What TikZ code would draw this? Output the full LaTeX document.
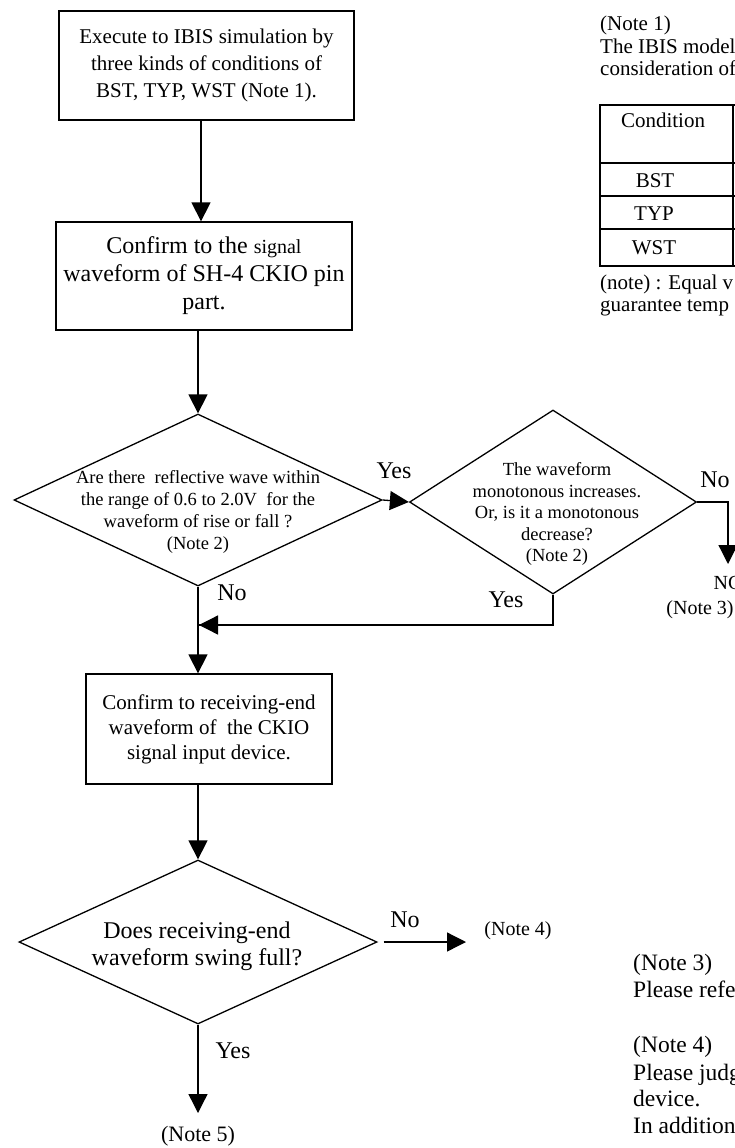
\documentclass[tikz,border=0pt]{standalone}
\usepackage{fontspec}
\setmainfont{Liberation Serif}
\usetikzlibrary{shapes.geometric,arrows.meta,calc}
\tikzset{
  box/.style={draw, line width=1.3pt, align=center, inner sep=0pt},
  dia/.style={draw, diamond, line width=1.3pt, inner sep=0pt},
  arr/.style={line width=1.3pt, -{Triangle[length=19pt,width=19pt]}},
  plain/.style={line width=1.3pt},
  lbl/.style={anchor=base, inner sep=0pt, font=\fontsize{24}{28}\selectfont},
  txt/.style={align=center, inner sep=0pt},
  note/.style={anchor=base west, inner sep=0pt},
}
\begin{document}
\begin{tikzpicture}[x=1pt,y=-1pt]
\useasboundingbox (0,0) rectangle (735,1148);
% boxes
\node[box, minimum width=295pt, minimum height=109pt, font=\fontsize{21}{27}\selectfont] (b1) at (206.5,65.5)
  {Execute to IBIS simulation by\\three kinds of conditions of\\BST, TYP, WST (Note 1).};
\node[box, minimum width=296pt, minimum height=108pt, font=\fontsize{24}{28}\selectfont] (b2) at (204,276)
  {Confirm to the {\fontsize{20}{28}\selectfont signal}\\waveform of SH-4 CKIO pin\\part.};
\node[box, minimum width=246pt, minimum height=110pt, font=\fontsize{21}{25}\selectfont] (b3) at (209,729)
  {Confirm to receiving-end\\waveform of \ the CKIO\\signal input device.};
% diamonds
\node[dia, minimum width=368pt, minimum height=172pt] (d1) at (198,500) {};
\node[txt, font=\fontsize{18.5}{21.7}\selectfont] (d1t) at (198,512)
  {Are there \ reflective wave within\\the range of 0.6 to 2.0V \ for the\\waveform of rise or fall ?\\(Note 2)};
\node[dia, minimum width=287pt, minimum height=184pt] (q2) at (553,502) {};
\node[txt, font=\fontsize{18.5}{21.5}\selectfont] (q2t) at (557,514)
  {The waveform\\monotonous increases.\\Or, is it a monotonous\\decrease?\\(Note 2)};
\node[dia, minimum width=358pt, minimum height=164pt] (d2) at (198,942) {};
\node[txt, font=\fontsize{24}{27}\selectfont] (d2t) at (197,946)
  {Does receiving-end\\waveform swing full?};
% end labels
\node[txt, font=\fontsize{20}{24}\selectfont, anchor=base] (ng) at (728,589) {NG};
\node[txt, font=\fontsize{20}{24}\selectfont, anchor=base] (n3) at (700,614) {(Note 3)};
\node[txt, font=\fontsize{20}{24}\selectfont, anchor=base] (n4) at (518,935) {(Note 4)};
\node[txt, font=\fontsize{22}{26}\selectfont, anchor=base] (n5) at (198,1141) {(Note 5)};
\coordinate (ngtip) at (728,564);
\coordinate (n4tip) at (466,942);
\coordinate (n5tip) at (198,1113);
\coordinate (join) at (199,625);
% connectors
\draw[arr] (b1.south -| 201,0) -- (b2.north -| 201,0);
\draw[arr] (b2.south -| d1.north) -- (d1.north);
\draw[arr] (d1.east) -- (q2.west);
\draw[arr] (q2.east) -| (ngtip);
\draw[plain] (q2.south) |- (join);
\draw[arr] (q2.south |- join) -- (join);
\draw[arr] (d1.south) -- (b3.north -| d1.south);
\draw[arr] (b3.south -| d2.north) -- (d2.north);
\draw[arr, shorten <=6pt] (d2.east) -- (n4tip);
\draw[arr] (d2.south) -- (n5tip);
% branch labels
\node[lbl] (y1) at (394,478) {Yes};
\node[lbl] (no1) at (232,600) {No};
\node[lbl] (y2) at (506,607) {Yes};
\node[lbl] (no2) at (715,487) {No};
\node[lbl] (no3) at (405,927) {No};
\node[lbl] (y3) at (233,1058) {Yes};
% note 1 block and table
\begin{scope}[font=\fontsize{21}{24}\selectfont]
\node[note] (t1) at (600,31) {(Note 1)};
\node[note] (t2) at (600,53) {The IBIS model};
\node[note] (t3) at (600,75) {consideration of};
\draw[line width=1.3pt] (760,105) -- (600,105) -- (600,266) -- (760,266);
\draw[line width=1.3pt] (600,163) -- (760,163) (600,196) -- (760,196) (600,229) -- (760,229);
\draw[line width=1.3pt] (733,105) -- (733,266);
\node[txt, anchor=base] (c0) at (663,127) {Condition};
\node[txt, anchor=base] (c1) at (655,187) {BST};
\node[txt, anchor=base] (c2) at (654,220) {TYP};
\node[txt, anchor=base] (c3) at (654,254) {WST};
\node[note] (t4) at (600,289) {(note) : Equal v};
\node[note] (t5) at (600,311) {guarantee temp};
\end{scope}
% notes 3, 4
\begin{scope}[font=\fontsize{23.5}{27}\selectfont]
\node[note] (r1) at (633,970) {(Note 3)};
\node[note] (r2) at (633,997) {Please refe};
\node[note] (r3) at (633,1052) {(Note 4)};
\node[note] (r4) at (633,1080) {Please judg};
\node[note] (r5) at (633,1106) {device.};
\node[note] (r6) at (633,1133) {In addition};
\end{scope}
\end{tikzpicture}
\end{document}
